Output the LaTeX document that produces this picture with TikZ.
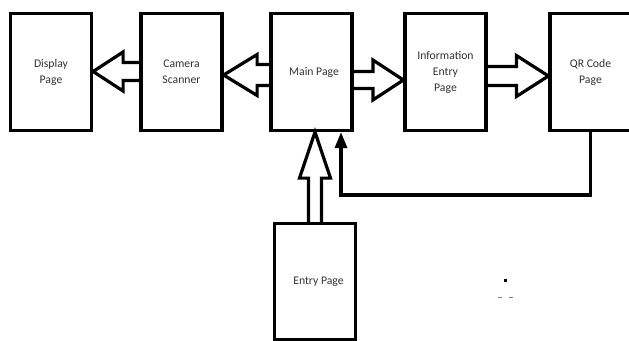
\documentclass[tikz,border=0pt]{standalone}
\usepackage{fontspec}
\setmainfont{Carlito}
\usetikzlibrary{calc,arrows.meta}

\tikzset{
    page/.style={draw,line width=3.2pt,minimum width=81pt,minimum height=117pt,
        align=center,text=black!80,font=\fontsize{11.7}{16}\selectfont},
    hollow/.style n args={3}{draw,line width=3.2pt,line join=miter,
        to path={let \p1=(\tikztostart), \p2=(\tikztotarget),
            \p3=($(\p2)!#3!(\p1)$) in
            ($(\p1)!#1!90:(\p2)$) -- ($(\p3)!#1!90:(\p2)$) -- ($(\p3)!#2!90:(\p2)$)
            -- (\p2) -- ($(\p3)!#2!-90:(\p2)$) -- ($(\p3)!#1!-90:(\p2)$)
            -- ($(\p1)!#1!-90:(\p2)$)}},
    back/.style={line width=3.2pt,-{Triangle[length=16pt,width=12pt]}}
}

\begin{document}
\begin{tikzpicture}[x=1pt,y=-1pt]
    \useasboundingbox[fill=white] (0,0) rectangle (629,340);
    \clip (0,0) rectangle (629,340);
    \node[page] (disp) at (51,72) {Display\hspace{6pt}\\Page\hspace{6pt}};
    \node[page] (cam) at (181.5,72) {Camera\hspace{8pt}\\Scanner\hspace{8pt}};
    \node[page] (main) at (311.5,72) {\hspace{5pt}Main Page};
    \node[page] (info) at (445.5,72) {Information\hspace{8pt}\\Entry\hspace{8pt}\\Page\hspace{8pt}};
    \node[page] (qr) at (590.5,72) {QR Code\\Page};
    \node[page,minimum height=116pt] (entry) at (315,281.5) {\hspace{7pt}Entry Page};
    \draw[hollow={9pt}{19.5pt}{30pt}] ([yshift=0.5pt]cam.west) to ([yshift=0.5pt]disp.east);
    \draw[hollow={10.5pt}{20.5pt}{33.5pt}] ([yshift=-3pt]main.west) to ([yshift=-3pt]cam.east);
    \draw[hollow={8.5pt}{20pt}{30.5pt}] ([yshift=-8pt]main.east) to ([yshift=-8pt]info.west);
    \draw[hollow={9.5pt}{20.5pt}{32pt}] ([yshift=-4pt]info.east) to ([yshift=-4pt]qr.west);
    \draw[hollow={6.5pt}{15.5pt}{46pt}] (entry.north) to (entry.north |- main.south);
    \coordinate (bend) at (341,195);
    \draw[back] (qr.south) |- (bend) -- (bend |- main.south);
    \fill (503.5,279) rectangle (506.5,281.5);
    \fill[black!50] (498,296.5) rectangle (502,297.5);
    \fill[black!50] (509,296.5) rectangle (513,297.5);
\end{tikzpicture}
\end{document}
